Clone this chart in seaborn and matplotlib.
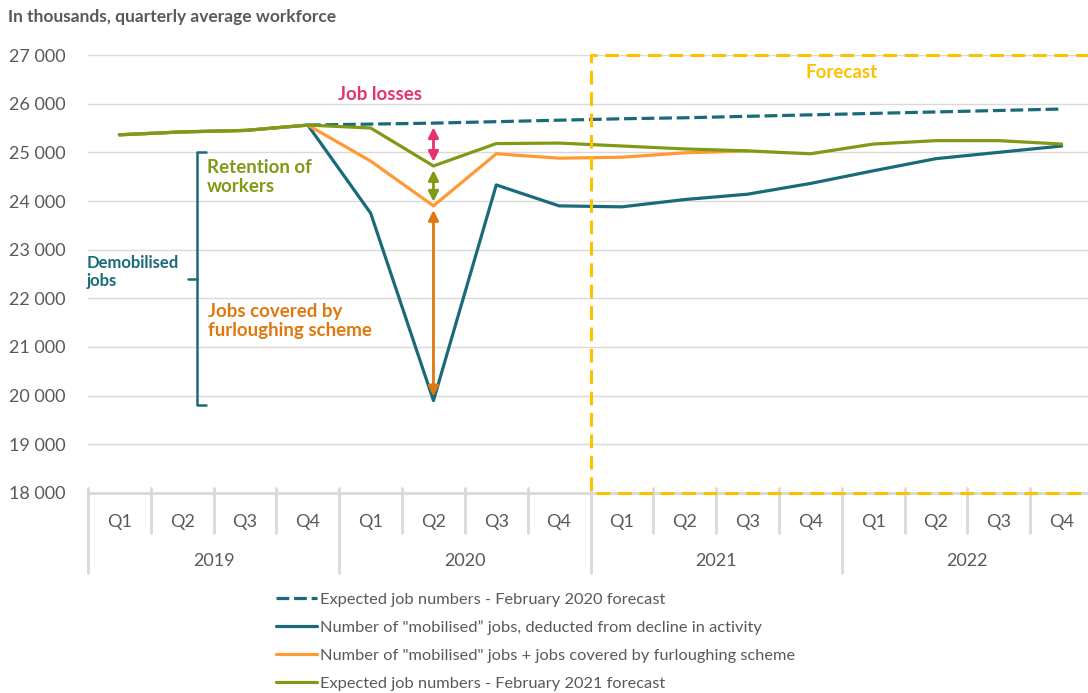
import matplotlib; matplotlib.use("Agg")
import matplotlib.pyplot as plt
import matplotlib.transforms as mtransforms
import numpy as np
import pandas as pd
import seaborn as sns

# ---- data (thousands of workers) ----
quarters = ["Q1", "Q2", "Q3", "Q4"] * 4
years = ["2019", "2020", "2021", "2022"]
feb2020_forecast = [np.nan, np.nan, np.nan, 25560, 25580, 25600, 25630, 25660,
                    25690, 25710, 25740, 25770, 25800, 25830, 25860, 25890]
mobilised = [25360, 25420, 25450, 25560, 23750, 19900, 24330, 23900,
             23880, 24030, 24140, 24360, 24620, 24870, 25000, 25130]
mobilised_furlough = [25360, 25420, 25450, 25560, 24820, 23900, 24970, 24880,
                      24900, 24990, 25030, np.nan, np.nan, np.nan, np.nan, np.nan]
feb2021_forecast = [25360, 25420, 25450, 25560, 25500, 24720, 25180, 25190,
                    25130, 25070, 25030, 24970, 25170, 25240, 25240, 25170]
labels = ["Expected job numbers - February 2020 forecast",
          "Number of \"mobilised\u201d jobs, deducted from decline in activity",
          "Number of \"mobilised\" jobs + jobs covered by furloughing scheme",
          "Expected job numbers - February 2021 forecast"]

TEAL = "#1A6B7A"; ORANGE = "#FF9A33"; GREEN = "#7F9A14"; PINK = "#E5336B"
DORANGE = "#E0780F"; GOLD = "#FFC000"; GREY = "#595959"; LGREY = "#D9D9D9"

sns.set_theme(style="white")
plt.rcParams["font.family"] = ["Lato", "DejaVu Sans"]

fig = plt.figure(figsize=(10.88, 6.93), dpi=100)
ax = fig.add_axes([88/1088, 200/693, 1005/1088, 438/693])

x = np.arange(len(quarters))
df = pd.DataFrame({"x": x, "feb2020": feb2020_forecast, "mob": mobilised,
                   "furl": mobilised_furlough, "feb2021": feb2021_forecast})

sns.lineplot(data=df, x="x", y="feb2020", ax=ax, color=TEAL, lw=2.3,
             linestyle=(0, (4, 1.5)), label=labels[0])
sns.lineplot(data=df, x="x", y="mob", ax=ax, color=TEAL, lw=2.3, label=labels[1])
sns.lineplot(data=df, x="x", y="furl", ax=ax, color=ORANGE, lw=2.3, label=labels[2])
sns.lineplot(data=df, x="x", y="feb2021", ax=ax, color=GREEN, lw=2.3, label=labels[3])

ax.set_xlim(-0.5, 15.5)
ax.set_ylim(18000, 27000)
ax.set_yticks(np.arange(18000, 27001, 1000))
ax.yaxis.set_major_formatter(lambda v, p: f"{int(v):,}".replace(",", " "))
ax.grid(axis="y", color=LGREY, lw=1)
ax.set_axisbelow(True)
for s in ["top", "right", "left"]:
    ax.spines[s].set_visible(False)
ax.spines["bottom"].set_color(LGREY); ax.spines["bottom"].set_linewidth(2)
ax.tick_params(axis="y", length=0, pad=16, labelsize=13, labelcolor=GREY)
ax.set_xticks([]); ax.set_xlabel(""); ax.set_ylabel("")

# two-level category axis
tr = mtransforms.blended_transform_factory(ax.transData, ax.transAxes)
for i, q in enumerate(quarters):
    ax.text(i, -0.066, q, transform=tr, ha="center", va="center", fontsize=13, color=GREY)
for j, yr in enumerate(years):
    ax.text(4*j + 1.5, -0.155, yr, transform=tr, ha="center", va="center", fontsize=13, color=GREY)
for b in np.arange(-0.5, 15, 1.0):
    low = -0.183 if (b + 0.5) % 4 == 0 else -0.091
    ax.plot([b, b], [0.012, low], transform=tr, color=LGREY, lw=2, clip_on=False)

# forecast box
ax.plot([15.6, 7.5, 7.5, 15.6], [27000, 27000, 18000, 18000], color=GOLD, lw=2.2,
        linestyle=(0, (4.5, 2.5)), clip_on=False, zorder=4)
ax.text(11.5, 26650, "Forecast", color=GOLD, fontsize=13.5, fontweight="bold", ha="center", va="center")

# gap arrows at Q2 2020
k = 5
for y0, y1, c in [(feb2020_forecast[k], feb2021_forecast[k], PINK),
                  (feb2021_forecast[k], mobilised_furlough[k], GREEN),
                  (mobilised_furlough[k], mobilised[k], DORANGE)]:
    ax.annotate("", xy=(k, y1), xytext=(k, y0),
                arrowprops=dict(arrowstyle="<|-|>,head_length=0.5,head_width=0.25",
                                color=c, lw=2, shrinkA=3, shrinkB=3))
ax.text(4.15, 26180, "Job losses", color=PINK, fontsize=13.5, fontweight="bold", ha="center", va="center")
ax.text(1.39, 24490, "Retention of\nworkers", color=GREEN, fontsize=13.5, fontweight="bold",
        ha="left", va="center", linespacing=1.15)
ax.text(1.41, 21530, "Jobs covered by\nfurloughing scheme", color=DORANGE, fontsize=13.5,
        fontweight="bold", ha="left", va="center", linespacing=1.15)
ax.text(-0.52, 22540, "Demobilised\njobs", color=TEAL, fontsize=12, fontweight="bold",
        ha="left", va="center", linespacing=1.2)

# bracket for demobilised jobs
bx, top, bot, mid = 1.236, 25000, 19800, 22400
ax.plot([bx + 0.14, bx, bx, bx + 0.14], [top, top, bot, bot], color=TEAL, lw=1.8, clip_on=False)
ax.plot([bx - 0.15, bx], [mid, mid], color=TEAL, lw=1.8)

fig.text(8/1088, 1 - 17/693, "In thousands, quarterly average workforce", fontsize=12.5,
         fontweight="bold", color=GREY, va="center", ha="left")

ax.get_legend().remove()
h, l = ax.get_legend_handles_labels()
fig.legend(h, l, loc="upper left", bbox_to_anchor=(268/1088, 1 - 584/693), frameon=False,
           fontsize=11.8, labelcolor=GREY, handlelength=2.5, handletextpad=0.2,
           labelspacing=0.82, borderpad=0)

fig.savefig("out.png", dpi=100, facecolor="white")
